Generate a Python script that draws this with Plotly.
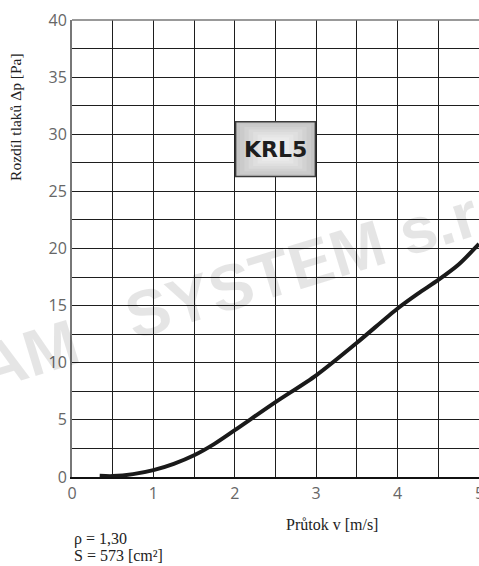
import plotly.graph_objects as go

# Data
velocity = [0.34, 0.5, 0.75, 1.0, 1.25, 1.5, 1.75, 2.0, 2.5, 3.0, 3.5, 4.0, 4.25, 4.5, 4.75, 5.0]
pressure = [0.1, 0.08, 0.25, 0.6, 1.15, 1.9, 2.9, 4.1, 6.55, 8.9, 11.75, 14.75, 16.05, 17.25, 18.6, 20.4]
x_ticks = [0, 1, 2, 3, 4, 5]
y_ticks = [0, 5, 10, 15, 20, 25, 30, 35, 40]
label_text = "KRL5"

fig = go.Figure()
fig.add_trace(go.Scatter(
    x=velocity, y=pressure, mode="lines",
    line=dict(color="#1a1a1a", width=4, shape="spline", smoothing=0.8),
    showlegend=False, hoverinfo="skip",
))

grid_col = "#1e1e1e"
tick_font = dict(family="Open Sans", size=16, color="#666666")

fig.update_xaxes(
    range=[0, 5], tickvals=x_ticks[:-1], ticktext=[str(t) for t in x_ticks[:-1]],
    showgrid=True, gridcolor=grid_col, gridwidth=1.3,
    minor=dict(dtick=0.5, showgrid=True, gridcolor=grid_col, gridwidth=1.3),
    showline=True, linecolor="#111111", linewidth=2,
    zeroline=False, ticks="", tickfont=tick_font, automargin=False,
    ticklabelstandoff=1,
)
fig.update_yaxes(
    range=[0, 40], tickvals=y_ticks, ticktext=[str(t) for t in y_ticks],
    showgrid=True, gridcolor=grid_col, gridwidth=1.3,
    minor=dict(dtick=2.5, showgrid=True, gridcolor=grid_col, gridwidth=1.3),
    showline=True, linecolor="#777777", linewidth=2,
    zeroline=False, ticks="", tickfont=tick_font, automargin=False,
)
# last x tick label sits on the figure edge (half cut off, as in the reference)
fig.add_annotation(x=x_ticks[-1], xref="x", y=-0.035, yref="paper", text=str(x_ticks[-1]),
                   showarrow=False, xanchor="center", yanchor="middle", font=tick_font)

# top border line
fig.add_shape(type="line", xref="paper", yref="paper", x0=0, x1=1, y0=1, y1=1,
              line=dict(color="#777777", width=1.5), layer="above")

# KRL5 label box with approximate gradient
bx0, bx1, by0, by1 = 2.01, 2.99, 26.3, 31.1
shades = ["#c4c4c4", "#cbcbcb", "#d2d2d2", "#d9d9d9", "#dfdfdf", "#e5e5e5", "#eaeaea", "#eeeeee"]
n = len(shades)
for i, c in enumerate(shades):
    fx = 0.44 * i / n
    fy = 0.38 * i / n
    w = bx1 - bx0
    h = by1 - by0
    fig.add_shape(type="rect", x0=bx0 + fx * w, x1=bx1 - fx * w,
                  y0=by0 + fy * h, y1=by1 - fy * h,
                  fillcolor=c, line=dict(width=0), layer="above")
fig.add_shape(type="rect", x0=bx0, x1=bx1, y0=by0, y1=by1,
              fillcolor="rgba(0,0,0,0)", line=dict(color="#3a3a3a", width=1.5), layer="above")
fig.add_annotation(x=(bx0 + bx1) / 2, y=(by0 + by1) / 2, text="<b>" + label_text + "</b>",
                   showarrow=False, font=dict(family="DejaVu Sans", size=22, color="#1e1e1e"))

# watermark
wm_font = dict(family="Liberation Sans", size=65, color="rgba(0,0,0,0.1)")
fig.add_annotation(xref="paper", yref="paper", x=-0.1057, y=0.267, text="<b>AM</b>",
                   showarrow=False, textangle=-17, xanchor="center", yanchor="middle", font=wm_font)
fig.add_annotation(x=3.255, y=19.46, text="<b>SYSTEM s.r.o.</b>", showarrow=False,
                   textangle=-17, font=wm_font)

# axis titles and notes
serif = "Liberation Serif"
fig.add_annotation(xref="paper", yref="paper", x=-0.1376, y=0.788, xanchor="center", yanchor="middle",
                   text="Rozdíl tlaků Δp [Pa]", textangle=-90, showarrow=False,
                   font=dict(family=serif, size=15.5, color="#222222"))
fig.add_annotation(xref="paper", yref="paper", x=0.639, y=-0.105, xanchor="center", yanchor="middle",
                   text="Průtok v [m/s]", showarrow=False,
                   font=dict(family=serif, size=16, color="#222222"))
fig.add_annotation(xref="paper", yref="paper", x=0.0, y=-0.1116, xanchor="left", yanchor="top",
                   text="ρ = 1,30", showarrow=False, font=dict(family=serif, size=16, color="#222222"))
fig.add_annotation(xref="paper", yref="paper", x=0.0, y=-0.149, xanchor="left", yanchor="top",
                   text="S = 573 [cm²]", showarrow=False, font=dict(family=serif, size=16, color="#222222"))

fig.update_layout(
    width=479, height=566, template="none",
    margin=dict(l=72, r=0, t=20, b=89),
    plot_bgcolor="white", paper_bgcolor="white",
)

fig.write_html(
    "out.html",
    config={"displayModeBar": False},
    post_script="document.body.style.margin='0px';document.documentElement.style.overflow='hidden';",
)
